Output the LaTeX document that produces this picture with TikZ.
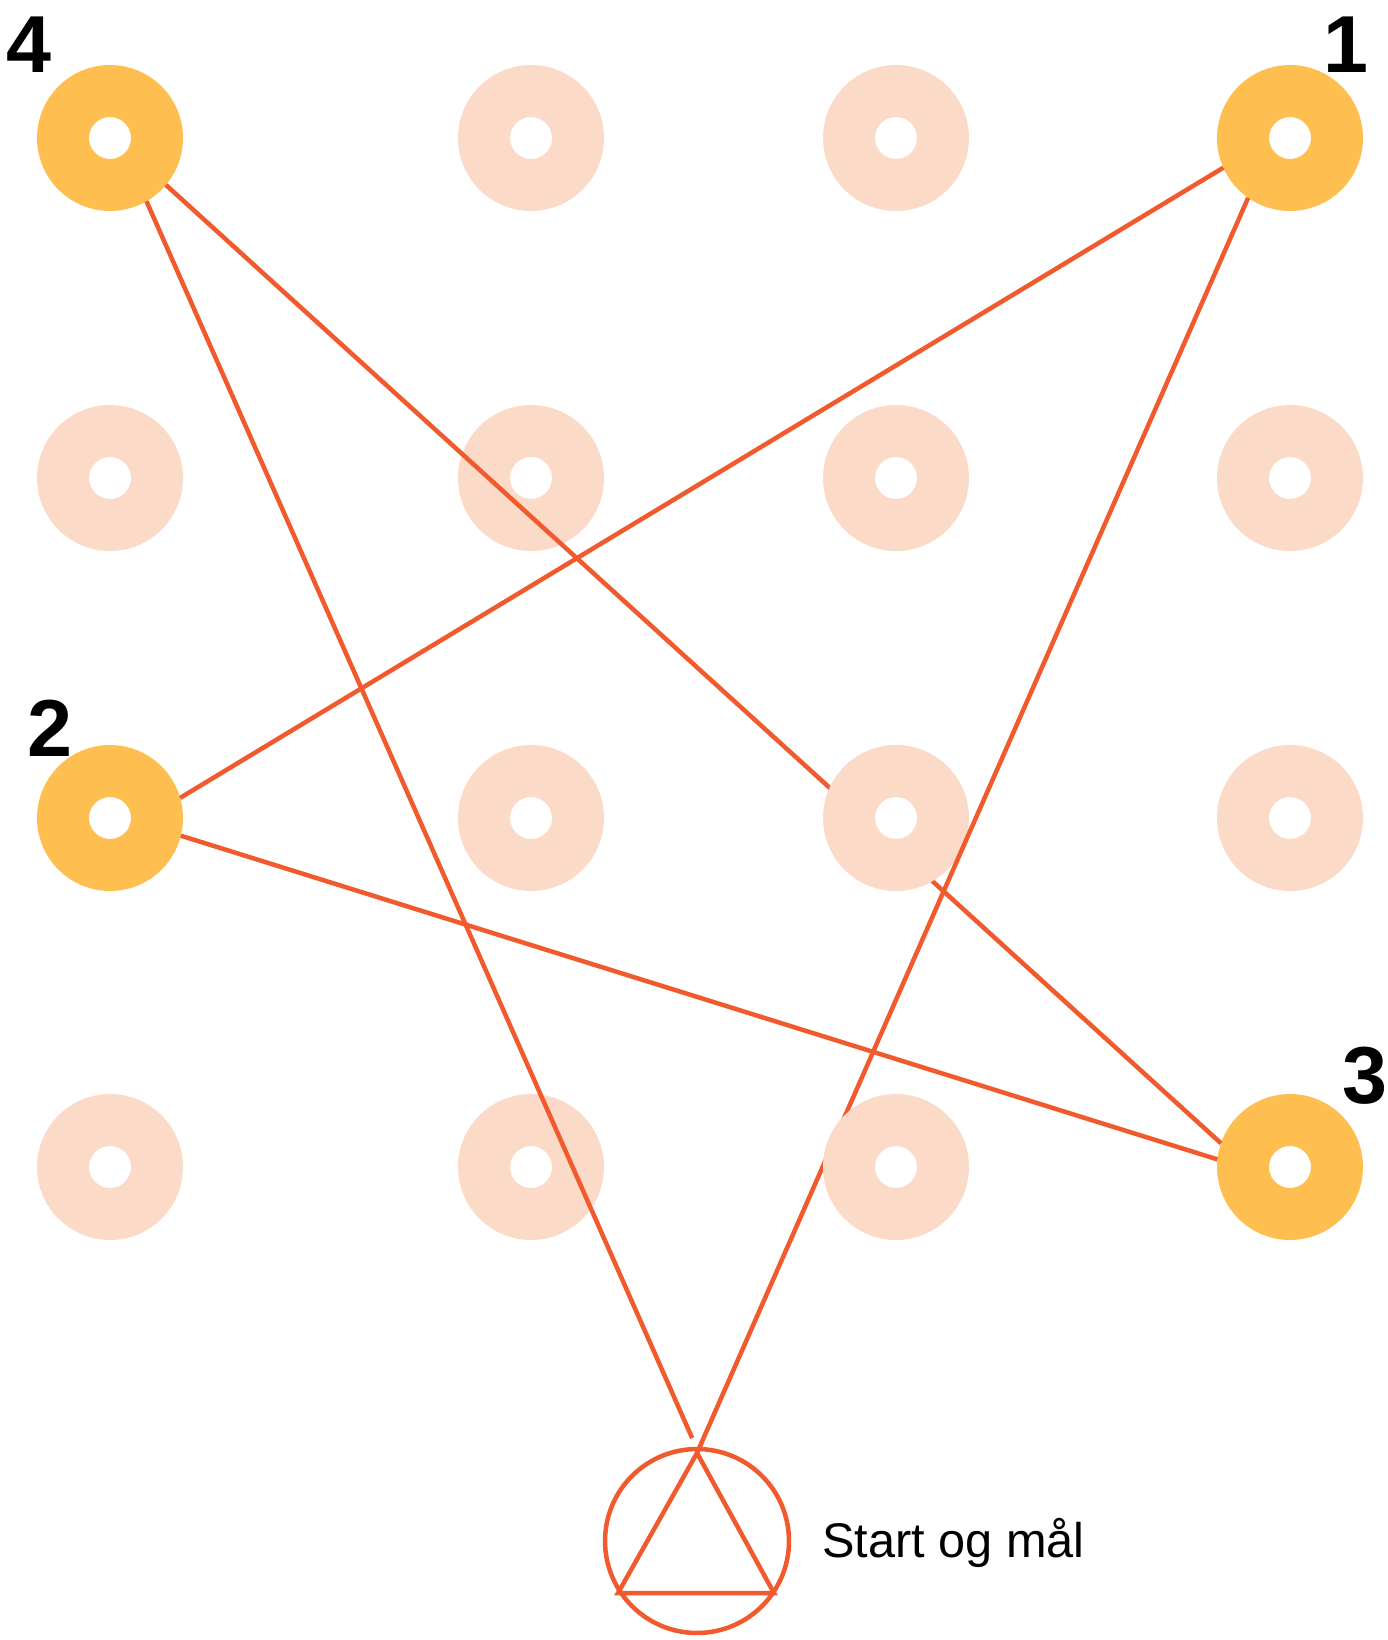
\documentclass[tikz,border=0pt]{standalone}
\usepackage{fontspec}
\setmainfont{Liberation Sans}
\usetikzlibrary{calc}
\definecolor{postyellow}{RGB}{254,190,80}
\definecolor{postpale}{RGB}{252,218,200}
\definecolor{trackred}{RGB}{240,90,45}
\tikzset{
  ring/.style={circle, draw=#1, fill=white, line width=1.04cm, minimum size=1.88cm, inner sep=0pt, outer sep=0.52cm},
  track/.style={draw=trackred, line width=0.09cm},
  postnum/.style={inner sep=0pt, font=\fontsize{46}{46}\selectfont\bfseries},
}
\begin{document}
\begin{tikzpicture}[x=0.02cm, y=-0.02cm]
  \fill [white] (0,0) rectangle (1387,1640);
  \useasboundingbox (0,0) rectangle (1387,1640);

  % Marking the pale posts of the grid
  \foreach \x/\y/\n in {531/138/b1, 896/138/c1, 110/478/a2, 531/478/b2, 896/478/c2,
                        1290/478/d2, 531/818/b3, 1290/818/d3, 110/1167/a4, 531/1167/b4}
    \node [ring=postpale] (\n) at (\x,\y) {};%

  % Marking post 4
  \node [ring=postyellow] (a1) at (110,138) {};%
  \draw (29,45) node [postnum] {4};%

  % Marking post 1
  \node [ring=postyellow] (d1) at (1290,138) {};%
  \draw (1346,45) node [postnum] {1};%

  % Marking post 2
  \node [ring=postyellow] (a3) at (110,818) {};%
  \draw (50,728) node [postnum] {2};%

  % Marking post 3
  \node [ring=postyellow] (d4) at (1290,1167) {};%
  \draw (1365,1076) node [postnum] {3};%

  % Marking start by circle and triangle
  \node [circle, track, minimum size=3.68cm, inner sep=0pt, outer sep=0pt] (start) at (697,1541) {};%
  \coordinate (apex) at ($(start.center)+(0,-88)$);
  \coordinate (baseW) at ($(start.center)+(-79,52)$);
  \coordinate (baseE) at ($(start.center)+(77,52)$);
  \draw [track] (apex) -- (baseW) -- (baseE) -- cycle;%
  \draw (822,1557) node [anchor=base west, inner sep=0pt, font=\fontsize{27.7}{30}\selectfont] {Start og mål};%

  % Drawing track 3 to 4
  \draw [track] (a1.-40) -- (d4.161);%

  % Post c3 lies over that track
  \node [ring=postpale] (c3) at (896,818) {};%

  % Drawing track start to 1
  \draw [track] (d1.235) -- (apex);%

  % Post c4 lies over that track
  \node [ring=postpale] (c4) at (896,1167) {};%

  % Drawing track 1 to 2
  \draw [track] (d1.204) -- (a3.16);%

  % Drawing track 2 to 3
  \draw [track] (a3.-14) -- (d4.174);%

  % Drawing track 4 to start
  \draw [track, shorten >=0.24cm] (a1.-60) -- (start.north);%
\end{tikzpicture}
\end{document}
